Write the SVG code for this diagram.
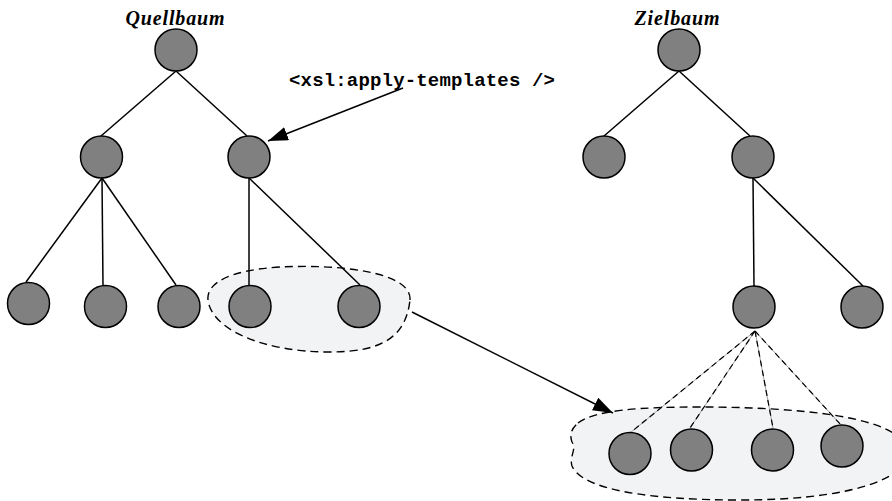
<svg xmlns="http://www.w3.org/2000/svg" width="892" height="501" viewBox="0 0 892 501">
<style>
.n{fill:#808080;stroke:#000;stroke-width:1.5}
.e{stroke:#000;stroke-width:1.5;fill:none}
.d{stroke:#000;stroke-width:1.2;stroke-dasharray:6,4;fill:none}
.dg{stroke:#888;stroke-width:0.8;fill:none}
.blob{fill:#f2f3f5;stroke:#000;stroke-width:1.4;stroke-dasharray:8,5}
.title{font-family:"Liberation Serif",serif;font-style:italic;font-weight:bold;font-size:20px;fill:#000}
.code{font-family:"Liberation Mono",monospace;font-weight:bold;font-size:19px;fill:#000}
</style>
<defs>
<marker id="ah" markerUnits="userSpaceOnUse" markerWidth="22" markerHeight="14" refX="20" refY="7" orient="auto">
<path d="M0,0 L20,7 L0,14 Z" fill="#000"/>
</marker>
</defs>
<g id="blobs">
<path class="blob" d="M410,300 C412,272 340,264 280,267 C230,270 206,283 208,300 C211,328 260,352 330,352 C385,352 406,335 410,300 Z"/>
<path class="blob" d="M578,423 C595,410 640,407 700,407 C790,407 905,415 907,452 C908,482 840,500 740,500 C650,500 582,490 572,466 C569,456 577,450 572,442 C569,434 572,428 578,423 Z"/>
</g>
<g id="labels">
<text class="title" x="175" y="25" text-anchor="middle" textLength="99">Quellbaum</text>
<text class="title" x="677" y="25" text-anchor="middle" textLength="85">Zielbaum</text>
<text class="code" x="289" y="86" textLength="266">&lt;xsl:apply-templates /&gt;</text>
</g>
<g id="connectors">
<line class="e" x1="176" y1="71" x2="101" y2="136"/>
<line class="e" x1="176" y1="71" x2="247" y2="136"/>
<line class="e" x1="102" y1="178" x2="26" y2="282"/>
<line class="e" x1="102" y1="178" x2="103" y2="285"/>
<line class="e" x1="102" y1="178" x2="176" y2="285"/>
<line class="e" x1="249" y1="178" x2="249" y2="286"/>
<line class="e" x1="249" y1="178" x2="360" y2="285"/>
<line class="e" x1="679" y1="71" x2="604" y2="136"/>
<line class="e" x1="679" y1="71" x2="750" y2="136"/>
<line class="e" x1="753" y1="178" x2="754" y2="286"/>
<line class="e" x1="753" y1="178" x2="863" y2="286"/>
<line class="dg" x1="755" y1="331" x2="630" y2="433"/>
<line class="dg" x1="755" y1="331" x2="690" y2="428"/>
<line class="dg" x1="755" y1="331" x2="773" y2="428"/>
<line class="dg" x1="755" y1="331" x2="841" y2="425"/>
<line class="d" x1="755" y1="331" x2="630" y2="433"/>
<line class="d" x1="755" y1="331" x2="690" y2="428"/>
<line class="d" x1="755" y1="331" x2="773" y2="428"/>
<line class="d" x1="755" y1="331" x2="841" y2="425"/>
<line class="e" x1="403" y1="88" x2="268" y2="141" marker-end="url(#ah)"/>
<line class="e" x1="412" y1="312" x2="613" y2="413" marker-end="url(#ah)"/>
</g>
<g id="q-root"><circle class="n" cx="176" cy="50" r="21"/></g>
<g id="q-l"><circle class="n" cx="101.5" cy="157" r="21"/></g>
<g id="q-r"><circle class="n" cx="249" cy="157" r="21"/></g>
<g id="q-l1"><circle class="n" cx="28.5" cy="303.5" r="21"/></g>
<g id="q-l2"><circle class="n" cx="105.5" cy="306.5" r="21"/></g>
<g id="q-l3"><circle class="n" cx="179" cy="306.5" r="21"/></g>
<g id="q-r1"><circle class="n" cx="250" cy="306.5" r="21"/></g>
<g id="q-r2"><circle class="n" cx="359" cy="306.5" r="21"/></g>
<g id="z-root"><circle class="n" cx="679" cy="50" r="21"/></g>
<g id="z-l"><circle class="n" cx="604" cy="157" r="21"/></g>
<g id="z-r"><circle class="n" cx="753" cy="157" r="21"/></g>
<g id="z-r1"><circle class="n" cx="754" cy="307" r="21"/></g>
<g id="z-r2"><circle class="n" cx="862" cy="307" r="21"/></g>
<g id="z-b1"><circle class="n" cx="630" cy="453.5" r="21"/></g>
<g id="z-b2"><circle class="n" cx="691.5" cy="450" r="21"/></g>
<g id="z-b3"><circle class="n" cx="772.5" cy="450" r="21"/></g>
<g id="z-b4"><circle class="n" cx="842" cy="446" r="21"/></g>
</svg>
